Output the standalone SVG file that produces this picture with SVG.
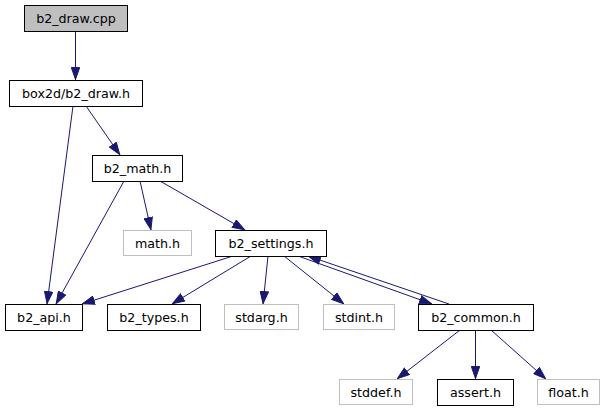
<svg xmlns="http://www.w3.org/2000/svg" width="606" height="411" viewBox="0 0 606 411">
<style>
.n rect{fill:#fff;stroke:#000;stroke-width:1}
.g rect{fill:#fff;stroke:#bfbfbf;stroke-width:1}
#n0 rect{fill:#bfbfbf;stroke:#000}
text{font-family:"DejaVu Sans",sans-serif;font-size:12.67px;text-anchor:middle;fill:#000}
.e path{fill:none;stroke:#191970;stroke-width:1;marker-end:url(#a)}
</style>
<defs>
<marker id="a" viewBox="0 0 13 9.4" refX="13" refY="4.7" markerWidth="13" markerHeight="9.4" markerUnits="userSpaceOnUse" orient="auto">
<path d="M0.5,0.5 L12.5,4.7 L0.5,8.9 z" fill="#191970" stroke="#191970" stroke-width="1"/>
</marker>
</defs>
<rect width="606" height="411" fill="#fff"/>
<g class="e" id="edges">
<path d="M75.5,31.5 L75.5,80"/>
<path d="M86,106 L120,155"/>
<path d="M73,106 L47,304"/>
<path d="M124,181 L56,304"/>
<path d="M140,181 L151,230"/>
<path d="M160,181 L245,230"/>
<path d="M233,256 L82,304"/>
<path d="M251,256 L172,304"/>
<path d="M268,256 L263,304"/>
<path d="M284,256 L344,304"/>
<path d="M298,256 L432,304"/>
<path d="M449,304 L308,256"/>
<path d="M460,330 L397,379"/>
<path d="M475.5,330 L475.5,379"/>
<path d="M491,330 L546,379"/>
</g>
<g id="n0" class="n"><rect x="24.5" y="5.5" width="103" height="26"/><text x="76" y="22.5">b2_draw.cpp</text></g>
<g id="n1" class="n"><rect x="9.5" y="80.5" width="133" height="26"/><text x="76" y="97.5">box2d/b2_draw.h</text></g>
<g id="n2" class="n"><rect x="92.5" y="155.5" width="90" height="26"/><text x="137.5" y="172.5">b2_math.h</text></g>
<g id="n3" class="g"><rect x="123.5" y="230.5" width="68" height="25"/><text x="157.5" y="247.5">math.h</text></g>
<g id="n4" class="n"><rect x="215.5" y="230.5" width="111" height="26"/><text x="271" y="247.5">b2_settings.h</text></g>
<g id="n5" class="n"><rect x="5.5" y="304.5" width="77" height="26"/><text x="44" y="321.5">b2_api.h</text></g>
<g id="n6" class="n"><rect x="107.5" y="304.5" width="93" height="26"/><text x="154" y="321.5">b2_types.h</text></g>
<g id="n7" class="g"><rect x="224.5" y="304.5" width="74" height="25"/><text x="261.5" y="321.5">stdarg.h</text></g>
<g id="n8" class="g"><rect x="323.5" y="304.5" width="71" height="25"/><text x="359" y="321.5">stdint.h</text></g>
<g id="n9" class="n"><rect x="418.5" y="304.5" width="115" height="26"/><text x="476" y="321.5">b2_common.h</text></g>
<g id="n10" class="g"><rect x="339.5" y="379.5" width="73" height="25"/><text x="376" y="396.5">stddef.h</text></g>
<g id="n11" class="n"><rect x="437.5" y="379.5" width="76" height="26"/><text x="475.5" y="396.5">assert.h</text></g>
<g id="n12" class="g"><rect x="537.5" y="379.5" width="62" height="25"/><text x="568.5" y="396.5">float.h</text></g>
</svg>
